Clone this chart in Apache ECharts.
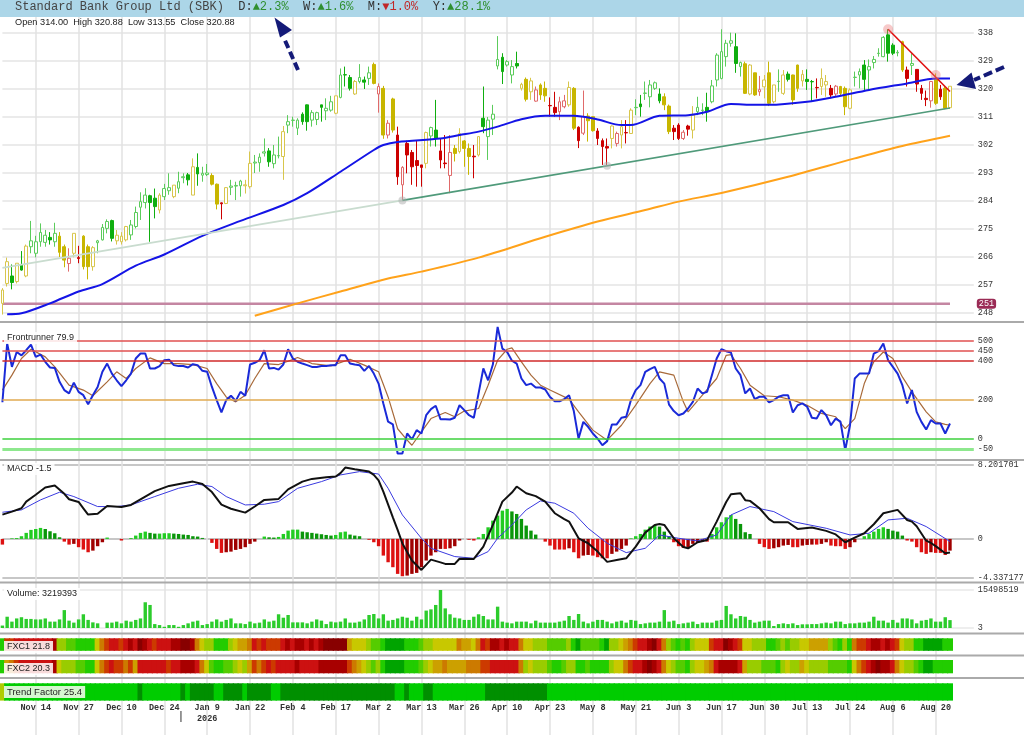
<!DOCTYPE html>
<html><head><meta charset="utf-8">
<script src="https://cdn.jsdelivr.net/npm/echarts@6/dist/echarts.min.js"></script>
<style>html,body{margin:0;padding:0;background:#fff}#c{width:1024px;height:735px}</style>
</head><body><div id="c"></div>
<script>
// ---------------- data ----------------
const tickLabels = ["Nov 14","Nov 27","Dec 10","Dec 24","Jan 9","Jan 22","Feb 4","Feb 17","Mar 2","Mar 13","Mar 26","Apr 10","Apr 23","May 8","May 21","Jun 3","Jun 17","Jun 30","Jul 13","Jul 24","Aug 6","Aug 20"];
const firstLabelIndex = 7, labelStep = 9;
const yearLabel = {index: 43, text: "2026"};
const yearBreakIndex = 37.5;
const priceTicks = [248,257,266,275,284,293,302,311,320,329,338];
const supportLevel = 251;
const headerName = "Standard Bank Group Ltd (SBK)";
const headerStats = [["D",2.3],["W",1.6],["M",-1.0],["Y",28.1]];

const opens = [251.1,257.5,259.9,258.1,263.6,259.9,269.3,267.2,270.9,270.7,
272.3,270.9,272.7,269.3,263.9,267.2,265.8,272.7,269.3,262.9,
270.6,271.5,275.2,277.7,271.2,270.9,271.5,273.1,275.8,282.0,
283.5,285.7,284.9,281.1,285.4,287.3,285.4,288.1,291.5,292.4,
285.9,294.8,292.3,292.5,292.2,289.4,283.4,283.2,288.4,288.8,
288.9,288.9,288.6,296.2,296.3,299.4,300.1,296.0,298.5,298.3,
308.4,309.9,307.4,311.9,314.9,310.0,310.2,314.9,313.0,313.2,
312.2,317.3,324.6,323.7,318.4,322.4,322.9,323.4,327.9,318.4,
320.2,305.2,316.8,305.2,289.2,302.5,299.6,297.0,295.6,296.1,
304.9,306.8,300.1,296.2,292.2,300.9,299.9,303.3,300.9,298.4,
298.8,310.6,304.7,310.3,327.4,330.2,327.7,324.5,328.2,320.2,
323.1,319.1,316.1,321.3,320.2,314.7,314.1,312.7,314.3,314.9,
320.2,307.7,305.8,311.3,311.1,306.5,303.4,301.5,304.1,302.5,
305.2,306.0,305.7,314.0,315.2,318.6,317.5,320.2,318.4,317.5,
314.5,307.4,308.4,304.1,308.1,306.8,312.7,313.1,314.1,315.9,
322.9,323.4,330.4,334.7,333.6,327.2,328.1,318.4,325.2,319.1,
320.7,325.2,315.9,322.4,318.6,324.8,324.5,327.7,322.6,323.1,
322.4,320.5,320.8,321.3,320.2,318.4,320.8,320.2,313.8,323.7,
324.5,327.7,326.1,328.5,331.4,330.4,337.4,334.1,331.6,335.2,
326.1,327.6,326.3,320.2,317.0,316.2,323.1,319.9,320.2,314.00];
const highs = [256.0,265.8,263.6,264.0,267.9,270.0,277.6,272.8,276.8,274.7,
274.0,277.0,274.0,270.0,268.8,273.6,269.6,273.0,270.0,269.5,
271.5,276.6,278.1,278.0,274.7,274.0,276.0,277.9,282.2,286.8,
288.1,286.0,288.0,286.5,289.5,292.9,289.1,293.4,292.9,293.0,
297.7,299.3,295.0,295.9,292.9,289.6,283.5,288.4,290.8,290.2,
290.8,290.8,299.9,298.8,299.3,304.1,301.0,302.0,304.7,308.1,
311.6,311.1,310.6,312.5,315.0,313.2,312.7,314.9,317.0,317.8,
317.8,326.6,327.2,324.5,322.9,328.0,324.0,327.2,328.5,321.8,
321.0,310.0,317.2,307.9,295.2,303.4,300.4,303.4,295.6,306.3,
307.9,316.5,304.1,305.2,305.2,302.0,307.4,303.6,302.5,302.0,
304.7,320.8,311.0,314.9,337.0,331.5,329.3,329.3,332.0,322.0,
323.7,323.6,320.8,321.8,322.4,317.3,319.1,317.5,318.1,322.4,
320.6,308.0,319.5,312.2,311.2,307.4,304.1,304.1,308.3,306.3,
310.0,310.0,313.8,316.7,318.1,322.4,322.9,322.4,320.2,318.6,
315.0,308.4,309.0,306.8,308.5,314.5,317.5,315.4,318.8,322.9,
331.5,339.2,335.8,338.1,337.9,328.8,328.8,328.0,325.2,324.2,
324.5,328.8,321.3,326.3,326.1,325.6,324.6,327.8,326.1,326.3,
322.9,323.4,326.6,324.5,321.3,321.3,321.0,320.8,320.2,325.6,
326.6,329.3,329.5,330.6,333.1,337.0,339.2,334.7,332.5,335.5,
327.2,331.5,326.3,321.3,319.5,322.6,325.0,321.3,321.0,320.88];
const lows = [247.5,256.5,255.6,257.5,261.6,259.5,267.2,265.9,269.3,269.3,
270.0,269.3,266.0,262.7,261.3,265.9,264.0,262.0,258.8,261.6,
267.2,271.3,273.6,271.0,270.0,270.0,271.0,271.5,275.2,277.9,
281.6,270.9,278.4,280.0,284.3,286.0,284.9,286.5,289.7,289.0,
285.9,288.9,290.2,292.0,289.0,281.3,278.1,283.0,285.9,284.3,
285.4,286.4,288.0,293.0,293.4,298.3,295.0,294.5,297.7,290.8,
305.8,307.9,305.2,308.5,306.6,307.9,308.4,309.5,310.0,312.7,
311.9,317.0,320.8,319.5,318.1,321.8,320.0,321.3,321.5,312.4,
304.0,304.1,306.0,289.2,284.3,292.9,289.2,288.6,288.6,294.5,
301.5,301.5,294.5,294.5,286.5,296.7,299.3,295.0,292.4,291.3,
298.3,305.8,297.2,305.2,326.3,321.6,327.2,321.8,326.6,319.5,
316.0,316.5,315.9,316.5,315.9,311.1,311.1,310.0,313.8,314.3,
306.8,301.0,305.2,303.1,306.3,302.0,295.6,295.6,300.9,301.5,
300.9,302.5,305.6,311.6,311.1,316.5,314.1,319.7,315.4,313.2,
305.5,303.6,303.6,303.6,305.0,304.1,311.6,311.6,309.5,315.4,
320.8,323.1,327.2,333.6,325.2,324.0,318.4,318.0,317.8,317.8,
317.0,314.5,315.4,319.1,318.1,322.4,314.9,319.1,320.8,319.7,
316.0,317.0,318.1,317.5,317.0,317.5,318.0,311.6,313.5,320.8,
320.2,319.7,319.7,326.6,330.4,330.2,328.8,330.9,330.5,325.5,
320.8,324.5,319.1,316.5,314.5,314.0,314.9,316.5,313.5,313.55];
const closes = [255.4,264.5,257.8,264.0,261.8,269.5,271.2,270.9,273.9,273.0,
271.5,273.6,267.5,265.0,265.6,273.6,265.5,262.9,262.9,269.0,
271.2,275.5,277.4,272.0,273.0,272.7,275.8,276.3,280.3,283.8,
285.9,283.5,282.2,285.9,288.0,288.3,289.1,290.2,291.8,290.8,
295.0,292.7,292.9,293.0,289.4,283.0,283.1,288.3,288.8,289.0,
290.4,289.2,296.1,296.5,298.1,299.8,296.6,298.8,298.6,306.3,
309.5,310.0,310.0,309.5,309.5,312.4,312.4,314.1,313.8,315.9,
317.8,324.5,324.5,320.2,322.4,323.7,322.2,325.2,321.8,320.8,
305.2,309.0,306.8,291.8,294.8,298.8,295.0,295.4,294.8,306.0,
307.6,304.1,297.2,296.0,299.6,299.3,305.7,300.9,298.3,298.2,
304.7,307.9,310.0,311.9,329.5,325.6,328.8,327.2,327.4,321.5,
316.7,322.6,319.7,318.1,317.8,314.6,312.4,315.9,316.2,320.5,
307.4,303.4,311.1,309.8,306.6,304.1,301.5,301.0,308.1,305.7,
307.9,305.9,313.2,314.1,314.3,318.7,321.3,322.0,316.2,314.9,
306.3,306.3,304.1,306.1,307.1,311.6,314.1,313.2,312.7,321.0,
330.9,332.0,334.7,335.5,328.2,328.5,318.6,327.7,318.1,319.8,
322.9,315.4,321.3,322.5,324.5,323.1,316.5,320.2,324.7,322.4,
322.3,320.4,323.4,322.4,318.1,320.9,318.6,314.3,319.7,323.8,
325.6,323.1,327.2,329.5,331.5,336.6,331.5,331.5,331.8,326.1,
323.4,328.2,321.6,318.6,316.6,322.4,315.4,317.5,313.8,320.88];
// candle trend state: g = up, y = neutral, r = down
const trendState = ("yygygygggg ggyyryryyy ggggyyyggg gggyggyggg ygggyyrygg gyyggggggy gggggggggg ygggygggyr yryrrrrrry ggrrryyyyr " +
  "yggggggggy yyryyrrrry yrryyrrryr yryggggggy yrrrrygggg ggggggyyyr yyygygyyyg gryyrryyyg gggggggggy rgrrrryryy").replace(/ /g, "");

const ma50Pts = [[1,247.6],[4,247.9],[10,251.1],[16,254.9],[21,257.3],[28,263.2],[34,266.8],[42,272.8],[50,277.6],[59,282.7],[64,286.5],[71,293.4],[78,300.4],[80,302.0],[83,303.0],[92,304.1],[96,305.2],[100,306.3],[104,307.9],[109,310.3],[114,311.4],[120,311.4],[125,310.2],[130,308.4],[132,308.4],[138,311.4],[144,311.6],[148,312.7],[153,315.2],[158,314.9],[161,314.9],[169,315.9],[175,317.5],[182,319.7],[190,321.8],[196,323.4],[199,323.4]];
const ma200Pts = [[53,247.1],[62,251.1],[71,254.9],[81,259.1],[88,261.3],[100,265.8],[114,272.5],[125,277.4],[135,281.1],[142,283.8],[151,286.6],[165,291.8],[179,297.7],[189,301.7],[199,305.0]];
const trendLineStart = [0,262.5], trendLinePivot = [84,284.2], trendLineEnd = [199,313.9];
const trendTouches = [[84,284.2],[127,295.3]];
const downLine = [[186,339.2],[199,319.2]];
const downTouches = [[186,339.2],[196,324.5]];

const frontrunner = [188,487,368,444,427,453,482,419,431,394,
365,363,292,250,233,288,241,224,178,224,
266,343,385,334,300,270,300,334,411,436,
436,360,360,372,402,405,377,372,373,365,
382,377,348,343,266,199,136,199,221,195,
241,221,380,389,402,453,360,363,354,380,
458,411,394,385,377,368,368,373,373,377,
377,427,427,385,380,377,348,373,334,283,
182,89,75,-73,-73,29,-1,46,29,122,
153,170,102,102,100,109,173,148,122,109,
233,360,300,380,572,461,444,400,385,309,
275,283,263,263,253,215,193,193,204,224,
143,3,88,63,29,3,-31,-10,75,75,
109,114,199,250,275,343,357,368,309,283,
176,143,122,131,156,190,258,233,241,326,
411,458,448,441,360,326,233,258,204,216,
216,187,199,216,224,224,136,173,182,165,
109,105,148,122,71,105,89,-56,71,309,
334,334,334,436,448,487,402,368,334,275,
182,250,139,88,49,97,80,80,29,79.9];
const frSignalPts = [[0,250],[2,326],[4,411],[6,458],[9,419],[11,368],[14,275],[17,250],[19,221],[22,292],[24,343],[26,309],[28,360],[31,414],[34,385],[37,385],[40,380],[43,360],[45,283],[47,215],[49,190],[51,224],[53,309],[55,385],[58,380],[60,397],[62,416],[65,385],[69,373],[73,407],[76,377],[79,343],[81,215],[83,53],[85,-5],[86,-31],[88,37],[90,105],[93,136],[95,114],[97,143],[100,156],[102,275],[104,402],[106,458],[107,465],[109,394],[111,326],[113,275],[115,250],[119,204],[121,139],[124,46],[127,-5],[130,71],[133,173],[136,283],[138,343],[141,326],[143,190],[144,139],[147,224],[150,309],[152,427],[153,431],[155,360],[157,275],[160,221],[163,216],[166,199],[169,173],[172,131],[175,114],[177,54],[179,105],[181,283],[183,394],[185,444],[187,411],[189,317],[191,241],[194,139],[196,88],[198,75],[199,71]];
const frLevels = [500,450,400,200,0,-50];

const macdPts = [[0,2.7],[2,3.03],[4,3.4],[5,4.14],[7,4.9],[9,5.7],[11,5.92],[13,5.0],[14,4.4],[16,4.1],[17,3.4],[18,2.7],[20,2.8],[22,3.66],[25,3.55],[27,3.77],[30,4.7],[32,5.3],[35,5.88],[38,6.18],[40,6.36],[42,6.1],[44,5.2],[46,3.8],[48,3.35],[51,2.92],[53,3.6],[55,4.33],[58,4.44],[60,5.5],[63,6.36],[65,6.66],[68,6.84],[70,6.92],[71,7.3],[72,7.92],[74,7.73],[77,7.47],[78,7.1],[79,6.5],[80,5.25],[82,2.4],[83,1.0],[84,-0.5],[86,-2.4],[88,-3.44],[90,-2.3],[92,-2.6],[93,-2.77],[95,-2.77],[96,-2.2],[99,-2.22],[101,-0.85],[103,1.55],[105,4.14],[107,5.15],[108,5.81],[110,5.07],[112,4.75],[114,4.14],[116,2.85],[118,2.2],[119,1.92],[121,0.07],[123,-0.48],[125,-1.41],[127,-2.55],[129,-2.33],[131,-2.15],[133,-0.85],[135,0.7],[137,1.55],[138,1.65],[139,1.55],[141,0.07],[143,-0.9],[144,-1.04],[146,-0.37],[148,-0.11],[150,1.92],[152,4.1],[153,4.96],[155,5.07],[156,4.3],[157,4.22],[159,3.4],[161,2.2],[162,1.85],[165,1.85],[167,1.11],[170,1.26],[173,0.89],[175,0.5],[177,-0.37],[179,0.15],[181,0.63],[183,1.63],[185,2.85],[188,3.22],[190,2.1],[191,1.92],[192,1.4],[194,-0.2],[195,-0.45],[196,-0.8],[198,-1.59],[199,-1.5]];
const macdSignalPts = [[0,2.96],[4,3.22],[8,4.33],[12,5.18],[15,4.7],[20,3.59],[24,3.59],[27,3.77],[32,4.7],[37,5.62],[41,6.07],[44,5.81],[47,4.7],[51,3.77],[55,3.85],[58,4.14],[62,5.62],[67,6.36],[71,7.1],[75,7.47],[79,7.2],[81,5.62],[84,2.66],[88,0.07],[90,-1.04],[95,-1.96],[99,-2.15],[102,-1.41],[104,0.07],[107,1.55],[110,3.22],[113,4.22],[116,3.96],[120,2.85],[123,1.18],[127,-0.48],[131,-1.52],[135,-1.04],[138,0.44],[142,0.07],[146,-0.22],[150,0.44],[153,2.66],[157,3.59],[162,3.03],[166,1.92],[173,1.18],[178,0.44],[182,0.63],[186,2.11],[190,2.29],[194,1.37],[199,-0.29]];
const macdHist = [-0.63,0,0.07,0.1,0.3,0.67,1.0,1.1,1.22,1.1,
0.85,0.63,0.18,-0.3,-0.63,-0.55,-0.92,-1.18,-1.48,-1.3,
-0.81,-0.37,0.15,0,0,-0.18,0,0.1,0.37,0.67,
0.81,0.67,0.59,0.59,0.63,0.63,0.59,0.55,0.48,0.44,
0.3,0.26,0.11,0,-0.44,-1.11,-1.55,-1.48,-1.41,-1.22,
-1.11,-0.92,-0.55,-0.3,0,0.26,0.18,0.15,0.22,0.55,
0.92,1.03,1.03,0.81,0.74,0.67,0.59,0.52,0.44,0.37,
0.44,0.74,0.81,0.48,0.37,0.3,0,-0.1,-0.37,-0.81,
-1.85,-2.59,-3.14,-3.88,-4.14,-4.07,-3.88,-3.77,-3.14,-2.4,
-1.85,-1.48,-1.11,-1.11,-1.04,-0.81,-0.18,0,-0.1,-0.18,
0.18,0.55,1.29,2.03,2.59,3.14,3.33,3.05,2.77,2.22,
1.48,0.92,0.48,0,-0.3,-0.74,-1.18,-1.18,-1.18,-1.04,
-1.48,-2.15,-1.85,-1.78,-1.85,-2.03,-2.15,-2.15,-1.66,-1.41,
-1.11,-0.74,0.07,0.3,0.55,1.03,1.37,1.55,1.37,0.81,
0.3,-0.37,-0.81,-1.0,-0.92,-0.55,-0.37,-0.3,-0.3,0.55,
1.29,1.85,2.4,2.66,2.22,1.66,0.74,0.55,0,-0.55,
-0.92,-1.11,-1.04,-0.92,-0.74,-0.67,-0.92,-0.92,-0.74,-0.67,
-0.63,-0.63,-0.55,-0.37,-0.74,-0.81,-0.81,-1.11,-0.92,-0.37,
0,0.3,0.55,0.81,1.11,1.29,1.11,0.92,0.81,0.37,
-0.18,-0.3,-0.92,-1.48,-1.66,-1.48,-1.55,-1.55,-1.78,-1.3];
const macdTicks = [-4.337177, 0, 8.201701];

// volume in millions of shares
const volumeM = [1.0,4.6,2.6,3.9,4.4,3.7,3.7,3.5,3.5,3.9,
2.6,2.6,3.5,7.3,3.0,2.2,3.5,5.6,3.3,2.3,
1.9,0,2.2,2.2,2.6,1.9,3.0,2.6,3.3,3.9,
10.5,9.4,1.6,1.2,0.5,1.2,1.2,0.5,1.2,1.9,
2.6,3.0,1.2,1.6,2.6,3.5,2.6,3.3,3.9,1.9,
1.9,1.6,2.6,1.9,2.2,3.5,2.6,3.0,5.6,4.2,
5.3,2.3,2.3,2.3,1.9,2.6,3.5,3.0,1.6,2.6,
2.3,2.6,3.9,2.2,2.2,2.6,3.5,5.3,5.7,3.9,
5.6,3.0,3.3,3.9,4.6,4.2,3.0,4.6,3.5,7.1,
7.6,9.4,15.498519,8.0,5.6,4.2,3.9,3.3,3.3,4.6,
5.6,4.9,3.5,3.5,8.7,2.6,2.2,1.9,2.6,2.6,
2.6,1.9,3.0,2.2,2.2,2.2,2.2,2.6,3.0,4.9,
3.3,5.7,2.6,1.9,2.6,3.3,3.3,2.6,1.9,2.6,
3.0,2.2,3.3,3.0,1.6,1.9,2.2,2.2,2.6,7.3,
2.6,3.0,1.6,1.9,2.2,2.6,1.6,2.2,2.2,2.2,
3.0,3.3,9.0,5.6,3.9,4.9,4.6,3.3,2.2,2.6,
3.0,3.0,0.8,1.6,1.9,1.6,1.9,1.2,1.5,1.5,
1.6,1.6,1.9,2.2,1.9,2.6,2.6,1.6,1.9,1.9,
2.2,2.2,2.6,4.6,3.0,3.0,2.2,3.3,2.2,3.9,
3.9,3.5,1.9,3.0,3.3,3.9,2.6,2.6,4.4,3.219393];
const volumeTicks = [3, 15498519];

// heat levels 0 (dark red) .. A=10 (dark green)
const fxc1Levels = ("9332222222 2177889999 6432232120 1232221100 1467799976 5542323332 1211212100 0005666788 9AAAA99987 7666664556 " +
  "4231121224 6677788887 9A88889A77 6543221024 7898976663 2201236677 7998787766 5555789794 3321121236 7799AAAA99").replace(/ /g, "");
const fxc2Levels = ("9543222222 2167778899 6432334352 2222232211 1246899887 6753432322 2212222111 1113456787 9AAAA99987 6554555544 " +
  "4332222224 7677789987 7998999976 6432210124 6788976654 2111125777 8889767756 7777888896 4321011246 7789AA9999").replace(/ /g, "");
// 0 = weak, 1 = up, 2 = strong up
const trendFactorLevels = ("0111111111 1111111111 1111111112 1111111121 2222211222 2122222112 2222222222 2222222222 2221121112 2111111111 " +
  "1122222222 2222211111 1111111111 1111111111 1111111111 1111111111 1111111111 1111111111 1111111111 1111111111").replace(/ /g, "");
const readouts = {fxc1: 21.8, fxc2: 20.3, trendFactor: 25.4};

// ---------------- chart ----------------
const N_CAT = 205;
const cats = Array.from({length: N_CAT}, (_, i) => String(i));
const L = 2.4, R = 50.2;
const step = (1024 - L - R) / (N_CAT - 1);
function labelAt(i) {
  const k = (i - firstLabelIndex) / labelStep;
  return (Number.isInteger(k) && k >= 0 && k < tickLabels.length) ? tickLabels[k] : null;
}
const MONO = "'Liberation Mono','DejaVu Sans Mono',monospace";
const SANS = "'Liberation Sans',Arial,sans-serif";

const candleColors = {
  g: {fill: '#0fae0f', line: '#5ccc5c'},
  y: {fill: '#c8b600', line: '#d8c64c'},
  r: {fill: '#cc0000', line: '#e06a6a'}
};
const candleData = opens.map((o, i) => {
  const c = closes[i], cc = candleColors[trendState[i]], up = c > o;
  const fill = up ? '#ffffff' : cc.fill, line = up ? cc.line : cc.fill;
  return {value: [o, c, lows[i], highs[i]],
    itemStyle: {color: fill, color0: fill, borderColor: line, borderColor0: line, borderWidth: 1}};
});
const heatColors = ['#880000','#a80000','#cc1111','#cc3a00','#cc7a00','#cca000','#c8c800','#99cc00','#55cc00','#22cc00','#00a400'];
const tfColors = ['#b0cc00','#00cc00','#008f00'];
function bandData(str, palette) {
  return str.split('').map(ch => ({value: 1, itemStyle: {color: palette[parseInt(ch, 16)]}}));
}
const histData = macdHist.map((v, i) => {
  const prev = i > 0 ? macdHist[i - 1] : v;
  let col;
  if (v >= 0) col = v >= prev ? '#22cc22' : '#0a960a';
  else col = v <= prev ? '#dd1111' : '#a00000';
  return {value: v, itemStyle: {color: col}};
});
const frLevelStyle = {500: ['#e05050', 1.5], 450: ['#e05050', 1.5], 400: ['#d02a2a', 1.5], 200: ['#e0aa50', 1.5], 0: ['#3cd03c', 1.5], '-50': ['#8ee88e', 3]};

const gridDefs = [
  {top: 18, height: 302},      // 0 price
  {top: 324.3, height: 134.5}, // 1 frontrunner
  {top: 465, height: 113},     // 2 macd
  {top: 590, height: 38},      // 3 volume
  {top: 638.3, height: 12.5},  // 4 fxc1
  {top: 660, height: 13.3},    // 5 fxc2
  {top: 683.3, height: 17.3},  // 6 trend factor
  {top: 17, height: 718}       // 7 background verticals
];
const grid = gridDefs.map(g => Object.assign({left: L, right: R, containLabel: false, outerBoundsMode: 'none', show: false}, g));

const xAxis = gridDefs.map((g, k) => {
  const ax = {type: 'category', gridIndex: k, data: cats, boundaryGap: false, show: false,
    axisLine: {show: false}, axisTick: {show: false}, axisLabel: {show: false}, splitLine: {show: false}};
  if (k === 6) {
    ax.show = true;
    ax.axisLabel = {show: true, margin: 2, fontFamily: MONO, fontSize: 8.5, fontWeight: 'bold', color: '#333', lineHeight: 11,
      interval: (i) => labelAt(i) !== null,
      formatter: (v, i) => { const t = labelAt(i) || ''; return i === yearLabel.index ? t + '\n' + yearLabel.text : t; }};
  }
  if (k === 7) {
    ax.show = true;
    ax.splitLine = {show: true, interval: (i) => labelAt(i) !== null, lineStyle: {color: '#e2e2e2', width: 1.5}};
  }
  return ax;
});

const axLabel = (vals, extra) => Object.assign({show: true, customValues: vals, margin: 4, fontFamily: MONO, fontSize: 8.5, color: '#333', formatter: v => String(v)}, extra || {});
const yAxis = [
  {type: 'value', gridIndex: 0, position: 'right', min: 245.75, max: 342.82, axisLine: {show: false},
    axisTick: {show: false, customValues: priceTicks}, axisLabel: axLabel(priceTicks),
    splitLine: {show: true, lineStyle: {color: '#e4e4e4', width: 1.5}}},
  {type: 'value', gridIndex: 0, position: 'right', min: 245.75, max: 342.82, axisLine: {show: false},
    axisTick: {show: false, customValues: [supportLevel]},
    axisLabel: axLabel([supportLevel], {color: '#fff', backgroundColor: '#9a2b55', borderRadius: 3, padding: [1, 2, 0, 2], margin: 3}),
    splitLine: {show: false}},
  {type: 'value', gridIndex: 1, position: 'right', min: -100, max: 585, axisLine: {show: false},
    axisTick: {show: false, customValues: frLevels}, axisLabel: axLabel(frLevels), splitLine: {show: false}},
  {type: 'value', gridIndex: 2, position: 'right', min: macdTicks[0], max: macdTicks[2], axisLine: {show: false},
    axisTick: {show: false, customValues: macdTicks}, axisLabel: axLabel(macdTicks),
    splitLine: {show: true, lineStyle: {color: '#b4b4b4', width: 1.5}}},
  {type: 'value', gridIndex: 3, position: 'right', min: volumeTicks[0], max: volumeTicks[1], axisLine: {show: false},
    axisTick: {show: false, customValues: volumeTicks}, axisLabel: axLabel(volumeTicks),
    splitLine: {show: true, lineStyle: {color: '#e8e8e8', width: 1.5}}},
  {type: 'value', gridIndex: 4, min: 0, max: 1, show: false},
  {type: 'value', gridIndex: 5, min: 0, max: 1, show: false},
  {type: 'value', gridIndex: 6, min: 0, max: 1, show: false},
  {type: 'value', gridIndex: 7, min: 0, max: 1, show: false}
];

const line = (data, xi, yi, color, width, z, extra) => Object.assign({type: 'line', xAxisIndex: xi, yAxisIndex: yi, data,
  showSymbol: false, symbol: 'none', silent: true, z, lineStyle: {color, width}}, extra || {});

const bandBar = (xi, yi, data) => ({type: 'bar', xAxisIndex: xi, yAxisIndex: yi, data, barWidth: 6, z: 2, silent: true,
  itemStyle: {borderWidth: 0}});

const series = [
  {type: 'candlestick', xAxisIndex: 0, yAxisIndex: 0, data: candleData, barWidth: 3.2, z: 3, silent: true},
  line([[0, supportLevel], [199, supportLevel]], 0, 0, '#c486a2', 2.5, 2),
  line(ma200Pts, 0, 0, '#ffa21a', 2, 4, {smooth: 0.3}),
  line(ma50Pts, 0, 0, '#1414e6', 2, 4, {smooth: 0.3}),
  line([trendLineStart, trendLinePivot], 0, 0, '#c9dccf', 2, 4),
  line([trendLinePivot, trendLineEnd], 0, 0, '#4f9a7a', 1.6, 4),
  line(downLine, 0, 0, '#e01010', 1.6, 4),
  {type: 'scatter', xAxisIndex: 0, yAxisIndex: 0, data: trendTouches, symbolSize: 8, z: 5, silent: true, itemStyle: {color: 'rgba(175,175,175,0.65)'}},
  {type: 'scatter', xAxisIndex: 0, yAxisIndex: 0, data: downTouches, symbolSize: 10, z: 5, silent: true, itemStyle: {color: 'rgba(235,120,120,0.5)'}},
  // frontrunner
  line(frontrunner, 1, 2, 'rgba(0,0,0,0)', 0, 1, {markLine: {silent: true, symbol: ['none', 'none'], animation: false, label: {show: false},
    data: frLevels.map(v => ({yAxis: v, lineStyle: {type: 'solid', color: frLevelStyle[v][0], width: frLevelStyle[v][1]}}))}}),
  line(frSignalPts, 1, 2, '#a86a3a', 1.2, 3),
  line(frontrunner, 1, 2, '#1a2ad8', 2, 4),
  // macd
  {type: 'bar', xAxisIndex: 2, yAxisIndex: 3, data: histData, barWidth: 3.4, z: 2, silent: true},
  line(macdSignalPts, 2, 3, '#3a3ae0', 1, 3),
  line(macdPts, 2, 3, '#111111', 2, 4),
  // volume
  {type: 'bar', xAxisIndex: 3, yAxisIndex: 4, data: volumeM.map(v => Math.round(v * 1e6)), barWidth: 3.4, z: 2, silent: true,
    itemStyle: {color: '#2ccc2c'}},
  // bands
  bandBar(4, 5, bandData(fxc1Levels, heatColors)),
  bandBar(5, 6, bandData(fxc2Levels, heatColors)),
  bandBar(6, 7, bandData(trendFactorLevels, tfColors))
];

const last = opens.length - 1;
const headerText = '{n|' + headerName + '}' + headerStats.map(([k, v]) =>
  '  {k|' + k + ':}{' + (v >= 0 ? 'u' : 'd') + '|' + (v >= 0 ? '▲' : '▼') + Math.abs(v).toFixed(1) + '%}').join('');
const boxTitle = (text, top, bg, fs) => ({text, left: 4, top, padding: [1, 3], backgroundColor: bg,
  textStyle: {fontFamily: SANS, fontSize: fs || 9, fontWeight: 'normal', color: '#222', lineHeight: 10}});
const title = [
  {text: headerText, left: 15, top: 1, padding: 0, textStyle: {fontFamily: MONO, fontSize: 12, fontWeight: 'normal', color: '#444',
    rich: {n: {fontFamily: MONO, fontSize: 12, color: '#444'}, k: {fontFamily: MONO, fontSize: 12, color: '#333'},
      u: {fontFamily: MONO, fontSize: 12, color: '#2f8f2f'}, d: {fontFamily: MONO, fontSize: 12, color: '#c02828'}}}},
  {text: 'Open ' + opens[last].toFixed(2) + '  High ' + highs[last].toFixed(2) + '  Low ' + lows[last].toFixed(2) + '  Close ' + closes[last].toFixed(2),
    left: 15, top: 18, padding: 0, textStyle: {fontFamily: SANS, fontSize: 9.2, fontWeight: 'normal', color: '#222'}},
  boxTitle('Frontrunner ' + frontrunner[last], 332, 'rgba(255,255,255,0.85)'),
  boxTitle('MACD ' + macdPts[macdPts.length - 1][1].toFixed(1), 463, 'rgba(255,255,255,0.85)'),
  boxTitle('Volume: ' + Math.round(volumeM[last] * 1e6), 588, 'rgba(255,255,255,0.85)'),
  boxTitle('FXC1 ' + readouts.fxc1, 641, 'rgba(255,255,255,0.85)'),
  boxTitle('FXC2 ' + readouts.fxc2, 663, 'rgba(255,255,255,0.85)'),
  boxTitle('Trend Factor ' + readouts.trendFactor, 686, 'rgba(232,250,226,0.92)', 9.5)
];

const sep = y => ({type: 'line', shape: {x1: 0, y1: y, x2: 1024, y2: y}, style: {stroke: '#aaaaaa', lineWidth: 2}, silent: true, z: 5});
const navy = '#141a78';
const graphic = [
  {type: 'rect', shape: {x: 0, y: 0, width: 1024, height: 17}, style: {fill: '#acd6e8'}, z: 0, silent: true},
  sep(322), sep(460), sep(582.5), sep(633.5), sep(655.5), sep(678),
  {type: 'line', shape: {x1: L + yearBreakIndex * step, y1: 711, x2: L + yearBreakIndex * step, y2: 722}, style: {stroke: '#333', lineWidth: 1}, z: 5, silent: true},
  // annotation arrows
  {type: 'polyline', shape: {points: [[298, 70], [283.5, 37]]}, style: {stroke: navy, lineWidth: 4, lineDash: [8, 4], fill: null}, z: 20, silent: true},
  {type: 'polygon', shape: {points: [[274.5, 17.5], [292, 30], [280, 37.5]]}, style: {fill: navy}, z: 20, silent: true},
  {type: 'polyline', shape: {points: [[1004, 67], [974, 80]]}, style: {stroke: navy, lineWidth: 4, lineDash: [9, 4], fill: null}, z: 20, silent: true},
  {type: 'polygon', shape: {points: [[956.5, 85], [971.5, 72.5], [976, 89]]}, style: {fill: navy}, z: 20, silent: true}
];

const chart = echarts.init(document.getElementById('c'), null, {renderer: 'canvas'});
chart.setOption({animation: false, backgroundColor: '#ffffff', grid, xAxis, yAxis, series, title, graphic});
</script>
</body></html>
